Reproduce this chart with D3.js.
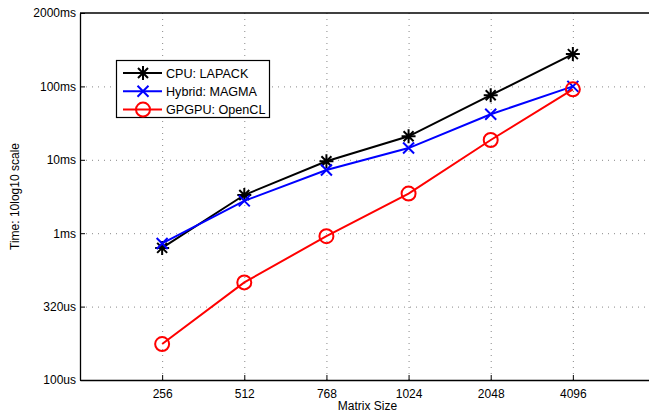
<!DOCTYPE html>
<html>
<head>
<meta charset="utf-8">
<script src="https://cdn.jsdelivr.net/npm/d3@7"></script>
<style>
body { margin: 0; background: #fff; }
text { font-family: "Liberation Sans", Arial, Helvetica, sans-serif; font-size: 12px; fill: #000; }
</style>
</head>
<body>
<svg width="649" height="416"></svg>
<script>
var svg = d3.select("svg");

// matrix sizes on the x axis
var sizes = ["256", "512", "768", "1024", "2048", "4096"];

// y values in 10log10 units
var cpu = [29.0, 32.6, 34.9, 36.6, 39.4, 42.2];
var hybrid = [29.3, 32.2, 34.3, 35.8, 38.1, 40.0];
var gpgpu = [22.45, 26.65, 29.8, 32.7, 36.35, 39.8];

var yTicks = [20, 25, 30, 35, 40, 45];
var yTickLabels = ["100us", "320us", "1ms", "10ms", "100ms", "2000ms"];

var seriesNames = ["CPU: LAPACK", "Hybrid: MAGMA", "GPGPU: OpenCL"];

// plot box (note: "top" is taken by window.top, so use other names)
var pLeft = 80, pRight = 655, pTop = 13, pBottom = 380;

var x = d3.scaleLinear().domain([0, 7]).range([pLeft, pRight]);
var y = d3.scaleLinear().domain([20, 45]).range([pBottom, pTop]);

//==================================================
// grid
var grid = svg.append("g");
grid.selectAll(".vg").data(sizes).enter().append("line")
    .attr("x1", function(d, i) { return x(i + 1) + 0.5; })
    .attr("x2", function(d, i) { return x(i + 1) + 0.5; })
    .attr("y1", pTop).attr("y2", pBottom)
    .attr("stroke", "#888").attr("stroke-width", 1)
    .attr("stroke-dasharray", "1,5");
grid.selectAll(".hg").data(yTicks.slice(1, -1)).enter().append("line")
    .attr("x1", pLeft).attr("x2", pRight)
    .attr("y1", function(d) { return y(d) + 0.5; })
    .attr("y2", function(d) { return y(d) + 0.5; })
    .attr("stroke", "#888").attr("stroke-width", 1)
    .attr("stroke-dasharray", "1,5");

//==================================================
// axes (matlab style, ticks pointing inward)
var xAxis = d3.axisBottom(x)
    .tickValues(d3.range(1, 7))
    .tickFormat(function(d) { return sizes[d - 1]; })
    .tickSizeInner(-5).tickSizeOuter(0).tickPadding(9);
var gx = svg.append("g").attr("transform", "translate(0," + pBottom + ")").call(xAxis);

var yAxis = d3.axisLeft(y)
    .tickValues(yTicks)
    .tickFormat(function(d, i) { return yTickLabels[i]; })
    .tickSizeInner(-5).tickSizeOuter(0).tickPadding(4);
var gy = svg.append("g").attr("transform", "translate(" + pLeft + ",0)").call(yAxis);

[gx, gy].forEach(function(g) {
    g.selectAll(".domain").attr("stroke", "#000").attr("stroke-width", 1.3);
    g.selectAll(".tick line").attr("stroke", "#000");
    g.selectAll("text").style("font-family", "'Liberation Sans', Arial, sans-serif")
        .style("font-size", "12px").attr("fill", "#000");
});

// top and right of the box
svg.append("line").attr("x1", pLeft).attr("x2", pRight).attr("y1", pTop).attr("y2", pTop)
    .attr("stroke", "#000").attr("stroke-width", 1.3);
svg.append("line").attr("x1", pRight).attr("x2", pRight).attr("y1", pTop).attr("y2", pBottom)
    .attr("stroke", "#000").attr("stroke-width", 1.3);

svg.append("text").attr("x", (pLeft + pRight) / 2).attr("y", 410)
    .attr("text-anchor", "middle").text("Matrix Size");
svg.append("text")
    .attr("transform", "translate(19," + ((pTop + pBottom) / 2) + ") rotate(-90)")
    .attr("text-anchor", "middle").text("Time: 10log10 scale");

//==================================================
// markers
var drawMarker = function(g, kind, cx, cy, color) {
    if (kind == "star") {
        var r = 7, d = 5;
        g.append("path")
            .attr("d", "M" + (cx - r) + "," + cy + "L" + (cx + r) + "," + cy +
                       "M" + cx + "," + (cy - r) + "L" + cx + "," + (cy + r) +
                       "M" + (cx - d) + "," + (cy - d) + "L" + (cx + d) + "," + (cy + d) +
                       "M" + (cx - d) + "," + (cy + d) + "L" + (cx + d) + "," + (cy - d))
            .attr("stroke", color).attr("stroke-width", 2).attr("fill", "none");
    } else if (kind == "x") {
        var s = 5.5;
        g.append("path")
            .attr("d", "M" + (cx - s) + "," + (cy - s) + "L" + (cx + s) + "," + (cy + s) +
                       "M" + (cx - s) + "," + (cy + s) + "L" + (cx + s) + "," + (cy - s))
            .attr("stroke", color).attr("stroke-width", 2).attr("fill", "none");
    } else {
        g.append("circle").attr("cx", cx).attr("cy", cy).attr("r", 7)
            .attr("stroke", color).attr("stroke-width", 2).attr("fill", "none");
    }
};

var series = [
    {values: cpu, color: "#000000", marker: "star"},
    {values: hybrid, color: "#0000ff", marker: "x"},
    {values: gpgpu, color: "#ff0000", marker: "circle"}
];

var line = d3.line()
    .x(function(d, i) { return x(i + 1); })
    .y(function(d) { return y(d); });

series.forEach(function(s) {
    var g = svg.append("g");
    g.append("path").datum(s.values).attr("d", line)
        .attr("fill", "none").attr("stroke", s.color).attr("stroke-width", 2);
    s.values.forEach(function(v, i) {
        drawMarker(g, s.marker, x(i + 1), y(v), s.color);
    });
});

//==================================================
// legend
var leg = svg.append("g");
leg.append("rect").attr("x", 116.5).attr("y", 60.5).attr("width", 153).attr("height", 57)
    .attr("fill", "#fff").attr("stroke", "#000").attr("stroke-width", 1.2);
series.forEach(function(s, i) {
    var ly = 73 + i * 18.3;
    leg.append("line").attr("x1", 123).attr("x2", 162).attr("y1", ly).attr("y2", ly)
        .attr("stroke", s.color).attr("stroke-width", 2);
    drawMarker(leg, s.marker, 143, ly, s.color);
    leg.append("text").attr("x", 166).attr("y", ly + 4.5)
        .style("font-size", "12.6px").text(seriesNames[i]);
});
</script>
</body>
</html>
